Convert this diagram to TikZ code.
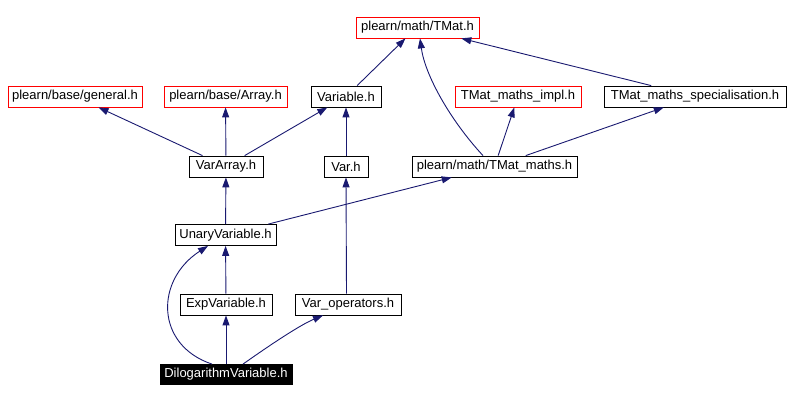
\documentclass[tikz,border=0pt]{standalone}
\usepackage{fontspec}
\setmainfont{Liberation Sans}
\usepackage{tikz}
\usetikzlibrary{arrows.meta}
\definecolor{edgeblue}{RGB}{25,25,112}

\begin{document}
\begin{tikzpicture}[
  x=1pt, y=-1pt,
  file/.style={draw=black, line width=0.8pt, minimum height=21pt,
               inner xsep=2pt, inner ysep=0pt, font=\fontsize{13}{14}\selectfont},
  extfile/.style={file, draw=red},
  curfile/.style={file, fill=black, text=white, minimum height=20pt},
  arr/.style={-{Triangle[length=10pt,width=7pt]}, draw=edgeblue, line width=0.9pt}
]
  \useasboundingbox (0,0) rectangle (790,401);

  \node[extfile, minimum width=123pt] (tmat)    at (417.5,27.5) {plearn/math/TMat.h};
  \node[extfile, minimum width=134pt] (general) at (75,96.5)    {plearn/base/general.h};
  \node[extfile, minimum width=123pt] (array)   at (225.5,96.5) {plearn/base/Array.h};
  \node[file,    minimum width=70pt]  (variable) at (346,96.5)  {Variable.h};
  \node[extfile, minimum width=126pt] (impl)    at (518,96.5)   {TMat\_maths\_impl.h};
  \node[file,    minimum width=182pt] (spec)    at (695,96.5)   {TMat\_maths\_specialisation.h};
  \node[file,    minimum width=74pt]  (vararray) at (226,166.5) {VarArray.h};
  \node[file,    minimum width=44pt]  (var)     at (346,166.5)  {Var.h};
  \node[file,    minimum width=165pt] (tmaths)  at (494.5,166.5) {plearn/math/TMat\_maths.h};
  \node[file,    minimum width=101pt] (unary)   at (225.5,235)  {UnaryVariable.h};
  \node[file,    minimum width=92pt]  (expvar)  at (226,304.5)  {ExpVariable.h};
  \node[file,    minimum width=106pt] (varops)  at (348,304.5)  {Var\_operators.h};
  \node[curfile, minimum width=132pt] (dilog)   at (226,374.5)  {DilogarithmVariable.h};

  \draw[arr] (vararray) -- (general);
  \draw[arr] (vararray) -- (array);
  \draw[arr] (vararray) -- (variable);
  \draw[arr] (variable) -- ([xshift=-12pt]tmat.south);
  \draw[arr] (var) -- (variable);
  \draw[arr] ([xshift=-11.5pt]tmaths.north) .. controls (450,120) and (425,75) .. ([xshift=2.5pt]tmat.south);
  \draw[arr] (tmaths) -- (impl);
  \draw[arr] (tmaths) -- (spec);
  \draw[arr] (spec) -- (tmat);
  \draw[arr] (unary) -- (vararray);
  \draw[arr] (unary) -- (tmaths);
  \draw[arr] (expvar) -- (unary);
  \draw[arr] ([xshift=-14pt]dilog.north) .. controls (155,345) and (155,280) .. ([xshift=-17.5pt]unary.south);
  \draw[arr] (dilog) -- (expvar);
  \draw[arr] ([xshift=17pt]dilog.north) .. controls (270,345) and (300,325) .. ([xshift=-25pt]varops.south);
  \draw[arr] ([xshift=-1.5pt]varops.north) -- (var.south);
\end{tikzpicture}
\end{document}
